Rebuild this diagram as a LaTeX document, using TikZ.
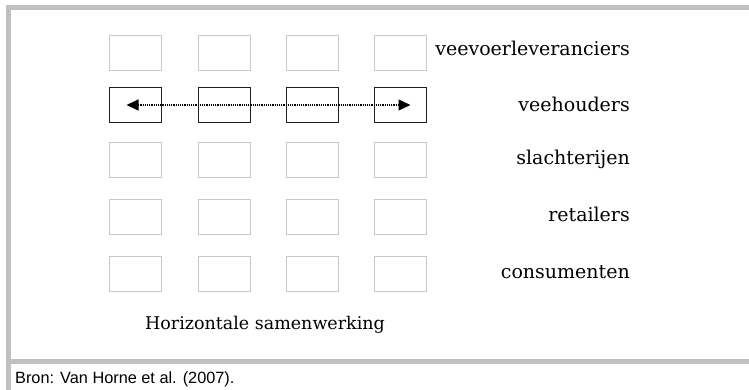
\documentclass[tikz,border=0pt]{standalone}
\usepackage{fontspec}
\setmainfont{DejaVu Serif}
\newfontfamily\bronfont{Liberation Sans}
\usetikzlibrary{arrows.meta}
\definecolor{framegrey}{RGB}{192,192,192}
\definecolor{cellgrey}{RGB}{200,200,200}
\definecolor{celldark}{RGB}{30,30,30}
\tikzset{
  cell/.style = {rectangle, draw=cellgrey, line width=1.8pt,
    minimum width=52pt, minimum height=35pt, inner sep=0pt},
  cell_on/.style = {cell, draw=celldark},% rij veehouders
  lbl/.style = {anchor=base east, inner sep=0pt,
    font=\fontsize{19}{22}\selectfont}
}
\begin{document}
\begin{tikzpicture}[x=1pt,y=1pt]
\useasboundingbox (0,0) rectangle (749,390);
% kader
\fill[framegrey] (6,380) rectangle (749,385);
\fill[framegrey] (6,0) rectangle (11,385);
\fill[framegrey] (11,26) rectangle (749,31);
% vakjes
\foreach \r/\y in {1/337,3/230,4/173,5/116}
  \foreach \c/\x in {1/135.5,2/224.5,3/312.5,4/400.5}
    \node [cell] (b\r\c) at (\x,\y) {};
\foreach \c/\x in {1/135.5,2/224.5,3/312.5,4/400.5}
  \node [cell_on] (b2\c) at (\x,285) {};
\draw [dash pattern=on 1.2pt off 1pt, line width=1.2pt,
  {Triangle[length=12pt,width=11pt]}-{Triangle[length=12pt,width=11pt]}]
  ([xshift=-9pt]b21.center) -- ([xshift=10pt]b24.center);
% schakels
\node [lbl] (l1) at (630,334) {veevoerleveranciers};
\node [lbl] (l2) at (630,278) {veehouders};
\node [lbl] (l3) at (630,225) {slachterijen};
\node [lbl] (l4) at (630,168) {retailers};
\node [lbl] (l5) at (630,111) {consumenten};
\node [anchor=base, inner sep=0pt, font=\fontsize{17.5}{20}\selectfont]
  (titel) at (265,60) {Horizontale samenwerking};
\node [anchor=base west, inner sep=0pt, font=\bronfont\fontsize{16.3}{18}\selectfont]
  (bron) at (15,6) {Bron: Van Horne et al. (2007).};
\end{tikzpicture}
\end{document}
